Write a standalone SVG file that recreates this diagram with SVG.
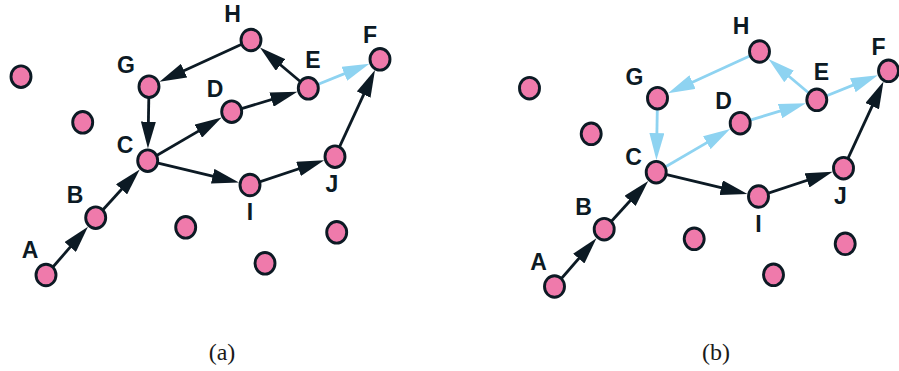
<svg xmlns="http://www.w3.org/2000/svg" width="899" height="371" viewBox="0 0 899 371">
<style>
.n{fill:#ef7aab;stroke:#0c1a24;stroke-width:2.9}
.e{fill:none;stroke:#0c1a24;stroke-width:2.8;marker-end:url(#ad)}
.b{fill:none;stroke:#8ed3f1;stroke-width:2.8;marker-end:url(#ab)}
.l{font-family:"Liberation Sans",Arial,sans-serif;font-weight:bold;font-size:23px;fill:#0c1a24;text-anchor:middle}
.cap{font-family:"Liberation Serif","Times New Roman",serif;font-size:24px;fill:#1a1a1a;text-anchor:middle}
</style>
<defs>
<marker id="ad" markerUnits="userSpaceOnUse" markerWidth="27" markerHeight="15" refX="17" refY="7.5" orient="auto"><path d="M0,0 L27,7.5 L0,15 Z" fill="#0c1a24"/></marker>
<marker id="ab" markerUnits="userSpaceOnUse" markerWidth="27" markerHeight="15" refX="17" refY="7.5" orient="auto"><path d="M0,0 L27,7.5 L0,15 Z" fill="#8ed3f1"/></marker>
</defs>
<rect width="899" height="371" fill="#ffffff"/>

<g id="panel-a">
<g id="a-edges">
<line class="e" x1="46" y1="275" x2="81.4" y2="234.2"/>
<line class="e" x1="95.7" y1="217.7" x2="133" y2="176.8"/>
<line class="e" x1="149" y1="86.7" x2="148.1" y2="138.6"/>
<line class="e" x1="147.7" y1="160.7" x2="213" y2="122.6"/>
<line class="e" x1="231.7" y1="111.7" x2="287.8" y2="94.6"/>
<line class="e" x1="308.3" y1="88.3" x2="267.6" y2="54"/>
<line class="e" x1="251" y1="40" x2="168.6" y2="77.7"/>
<line class="b" x1="308.3" y1="88.3" x2="360.1" y2="67.4"/>
<line class="e" x1="147.7" y1="160.7" x2="229.2" y2="180.1"/>
<line class="e" x1="250" y1="185" x2="314.7" y2="163.5"/>
<line class="e" x1="335" y1="156.7" x2="370.8" y2="79.2"/>
</g>
<g id="a-u1"><ellipse class="n" cx="21" cy="76.7" rx="10" ry="10.8"/></g>
<g id="a-u2"><ellipse class="n" cx="82.7" cy="122.3" rx="10" ry="10.8"/></g>
<g id="a-u3"><ellipse class="n" cx="185.7" cy="227.3" rx="10" ry="10.8"/></g>
<g id="a-u4"><ellipse class="n" cx="336.7" cy="232.3" rx="10" ry="10.8"/></g>
<g id="a-u5"><ellipse class="n" cx="265" cy="263.3" rx="10" ry="10.8"/></g>
<g id="a-A"><ellipse class="n" cx="46" cy="275" rx="10" ry="10.8"/><text class="l" x="30" y="258">A</text></g>
<g id="a-B"><ellipse class="n" cx="95.7" cy="217.7" rx="10" ry="10.8"/><text class="l" x="75" y="203">B</text></g>
<g id="a-C"><ellipse class="n" cx="147.7" cy="160.7" rx="10" ry="10.8"/><text class="l" x="125" y="153">C</text></g>
<g id="a-G"><ellipse class="n" cx="149" cy="86.7" rx="10" ry="10.8"/><text class="l" x="126" y="73">G</text></g>
<g id="a-H"><ellipse class="n" cx="251" cy="40" rx="10" ry="10.8"/><text class="l" x="232.5" y="22">H</text></g>
<g id="a-D"><ellipse class="n" cx="231.7" cy="111.7" rx="10" ry="10.8"/><text class="l" x="215" y="97">D</text></g>
<g id="a-E"><ellipse class="n" cx="308.3" cy="88.3" rx="10" ry="10.8"/><text class="l" x="313" y="68">E</text></g>
<g id="a-F"><ellipse class="n" cx="380" cy="59.3" rx="10" ry="10.8"/><text class="l" x="370" y="43">F</text></g>
<g id="a-J"><ellipse class="n" cx="335" cy="156.7" rx="10" ry="10.8"/><text class="l" x="332" y="192">J</text></g>
<g id="a-I"><ellipse class="n" cx="250" cy="185" rx="10" ry="10.8"/><text class="l" x="250" y="220">I</text></g>
<text class="cap" x="222" y="360">(a)</text>
</g>

<g id="panel-b" transform="translate(508.5,11.5)">
<g id="b-edges">
<line class="e" x1="46" y1="275" x2="81.4" y2="234.2"/>
<line class="e" x1="95.7" y1="217.7" x2="133" y2="176.8"/>
<line class="b" x1="149" y1="86.7" x2="148.1" y2="138.6"/>
<line class="b" x1="147.7" y1="160.7" x2="213" y2="122.6"/>
<line class="b" x1="231.7" y1="111.7" x2="287.8" y2="94.6"/>
<line class="b" x1="308.3" y1="88.3" x2="267.6" y2="54"/>
<line class="b" x1="251" y1="40" x2="168.6" y2="77.7"/>
<line class="b" x1="308.3" y1="88.3" x2="360.1" y2="67.4"/>
<line class="e" x1="147.7" y1="160.7" x2="229.2" y2="180.1"/>
<line class="e" x1="250" y1="185" x2="314.7" y2="163.5"/>
<line class="e" x1="335" y1="156.7" x2="370.8" y2="79.2"/>
</g>
<g id="b-u1"><ellipse class="n" cx="21" cy="76.7" rx="10" ry="10.8"/></g>
<g id="b-u2"><ellipse class="n" cx="82.7" cy="122.3" rx="10" ry="10.8"/></g>
<g id="b-u3"><ellipse class="n" cx="185.7" cy="227.3" rx="10" ry="10.8"/></g>
<g id="b-u4"><ellipse class="n" cx="336.7" cy="232.3" rx="10" ry="10.8"/></g>
<g id="b-u5"><ellipse class="n" cx="265" cy="263.3" rx="10" ry="10.8"/></g>
<g id="b-A"><ellipse class="n" cx="46" cy="275" rx="10" ry="10.8"/><text class="l" x="30" y="258">A</text></g>
<g id="b-B"><ellipse class="n" cx="95.7" cy="217.7" rx="10" ry="10.8"/><text class="l" x="75" y="203">B</text></g>
<g id="b-C"><ellipse class="n" cx="147.7" cy="160.7" rx="10" ry="10.8"/><text class="l" x="125" y="153">C</text></g>
<g id="b-G"><ellipse class="n" cx="149" cy="86.7" rx="10" ry="10.8"/><text class="l" x="126" y="73">G</text></g>
<g id="b-H"><ellipse class="n" cx="251" cy="40" rx="10" ry="10.8"/><text class="l" x="232.5" y="22">H</text></g>
<g id="b-D"><ellipse class="n" cx="231.7" cy="111.7" rx="10" ry="10.8"/><text class="l" x="215" y="97">D</text></g>
<g id="b-E"><ellipse class="n" cx="308.3" cy="88.3" rx="10" ry="10.8"/><text class="l" x="313" y="68">E</text></g>
<g id="b-F"><ellipse class="n" cx="380" cy="59.3" rx="10" ry="10.8"/><text class="l" x="370" y="43">F</text></g>
<g id="b-J"><ellipse class="n" cx="335" cy="156.7" rx="10" ry="10.8"/><text class="l" x="332" y="192">J</text></g>
<g id="b-I"><ellipse class="n" cx="250" cy="185" rx="10" ry="10.8"/><text class="l" x="250" y="220">I</text></g>
</g>
<text class="cap" x="716" y="360">(b)</text>
</svg>
